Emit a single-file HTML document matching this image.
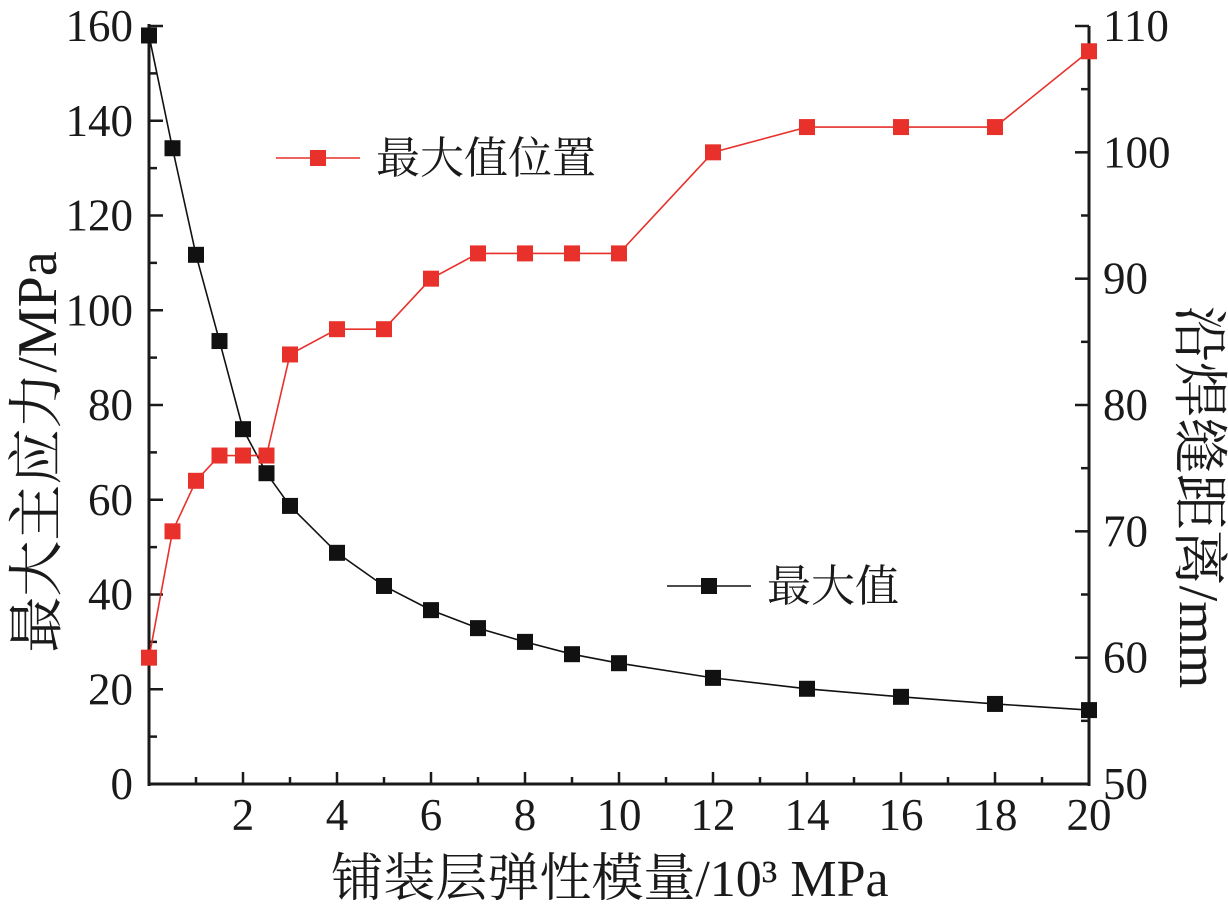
<!DOCTYPE html>
<html><head><meta charset="utf-8"><style>
html,body{margin:0;padding:0;background:#fff;}
svg text{font-family:"Liberation Serif","Noto Serif CJK SC",serif;fill:#1a1a1a;}
</style></head><body>
<svg id="chart" width="1228" height="911" viewBox="0 0 1228 911" xmlns="http://www.w3.org/2000/svg">
<g id="axes"></g>
<g id="series"></g>
<g id="legend"></g>
</svg>
<script>
const xVals=[0,0.5,1,1.5,2,2.5,3,4,5,6,7,8,9,10,12,14,16,18,20];
const maxStress=[158,134.2,111.7,93.5,74.9,65.6,58.7,48.8,41.8,36.7,32.9,30.0,27.4,25.5,22.4,20.1,18.4,16.9,15.6];
const maxPos=[60,70,74,76,76,76,84,86,86,90,92,92,92,92,100,102,102,102,108];
const xTicks=[2,4,6,8,10,12,14,16,18,20];
const yLeftTicks=[0,20,40,60,80,100,120,140,160];
const yRightTicks=[50,60,70,80,90,100,110];

const L=149,R=1089,T=26,B=784;
const sx=v=>L+(v/20)*(R-L);
const syL=v=>B-(v/160)*(B-T);
const syR=v=>B-((v-50)/60)*(B-T);
const NS="http://www.w3.org/2000/svg";
function mk(tag,attrs,parent,txt){const e=document.createElementNS(NS,tag);for(const k in attrs)e.setAttribute(k,attrs[k]);if(txt!==undefined)e.textContent=txt;parent.appendChild(e);return e;}
const axes=document.getElementById('axes'),series=document.getElementById('series'),legend=document.getElementById('legend');

let a=mk('line',{x1:L,y1:T-2,x2:L,y2:B+2,stroke:'#1a1a1a','stroke-width':3},axes);


a=mk('line',{x1:R,y1:T,x2:R,y2:B+2,stroke:'#1a1a1a','stroke-width':3},axes);


a=mk('line',{x1:L-1,y1:B,x2:R+1,y2:B,stroke:'#1a1a1a','stroke-width':3},axes);



for(let v=1;v<20;v++){const x=sx(v);const major=v%2===0;mk('line',{x1:x,y1:B,x2:x,y2:B-(major?12:7),stroke:'#1a1a1a','stroke-width':2.5},axes);}
xTicks.forEach(v=>{const t=mk('text',{x:sx(v),y:B+46,'text-anchor':'middle','font-size':45},axes,String(v));

});
for(let v=10;v<=160;v+=10){const y=syL(v);const major=v%20===0;mk('line',{x1:L,y1:y,x2:L+(major?14:8),y2:y,stroke:'#1a1a1a','stroke-width':2.5},axes);}
yLeftTicks.forEach(v=>{const t=mk('text',{x:L-16,y:syL(v)+15,'text-anchor':'end','font-size':45},axes,String(v));

});
for(let v=55;v<=110;v+=5){const y=syR(v);const major=v%10===0;mk('line',{x1:R,y1:y,x2:R-(major?14:8),y2:y,stroke:'#1a1a1a','stroke-width':2.5},axes);}
yRightTicks.forEach(v=>{const t=mk('text',{x:R+14,y:syR(v)+15,'text-anchor':'start','font-size':45},axes,String(v));

});

let t=mk('text',{x:610,y:896,'text-anchor':'middle','font-size':52},axes,'铺装层弹性模量/10³ MPa');


t=mk('text',{x:0,y:0,'text-anchor':'middle','font-size':56,transform:'translate(56,452) rotate(-90)'},axes,'最大主应力/MPa');


t=mk('text',{x:0,y:0,'text-anchor':'middle','font-size':56,transform:'translate(1180,497) rotate(90)'},axes,'沿焊缝距离/mm');



function drawSeries(vals,sy,color,name){
  const pts=xVals.map((x,i)=>sx(x)+','+sy(vals[i])).join(' ');
  const pl=mk('polyline',{points:pts,fill:'none',stroke:color,'stroke-width':1.6},series);
  
  
  xVals.forEach((x,i)=>{const r=mk('rect',{x:sx(x)-8,y:sy(vals[i])-8,width:16,height:16,fill:color},series);
  
  });
}
drawSeries(maxStress,syL,'#111111','max-stress');
drawSeries(maxPos,syR,'#e8312a','max-position');

function legendEntry(x,y,color,label,name){
  const g=mk('g',{},legend);
  
  
  mk('line',{x1:x,y1:y,x2:x+84,y2:y,stroke:color,'stroke-width':1.6},g);
  mk('rect',{x:x+34,y:y-8,width:16,height:16,fill:color},g);
  mk('text',{x:x+100,y:y+15,'font-size':44},g,label);
}
legendEntry(276,158,'#e8312a','最大值位置','legend-entry-max-position');
legendEntry(667,586,'#111111','最大值','legend-entry-max-stress');
</script>
</body></html>
